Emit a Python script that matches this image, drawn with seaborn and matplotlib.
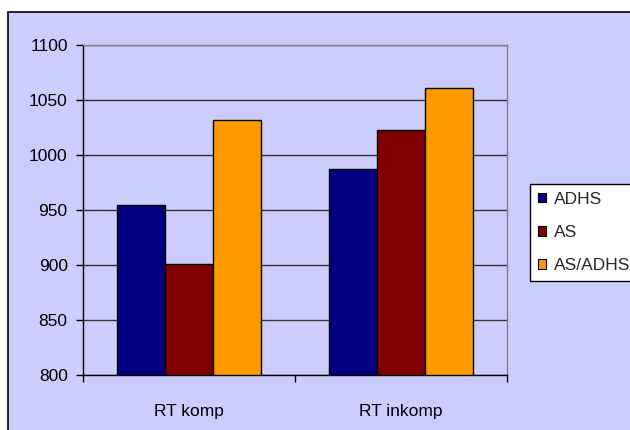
import pandas as pd
import matplotlib
matplotlib.use("Agg")
import matplotlib.pyplot as plt
import seaborn as sns
from matplotlib.patches import Rectangle

# data
conditions = ["RT komp", "RT inkomp"]
groups = ["ADHS", "AS", "AS/ADHS"]
adhs = [955, 987]
as_vals = [901, 1023]
as_adhs = [1032, 1061]

rows = []
for i, c in enumerate(conditions):
    rows.append((c, "ADHS", adhs[i]))
    rows.append((c, "AS", as_vals[i]))
    rows.append((c, "AS/ADHS", as_adhs[i]))
df = pd.DataFrame(rows, columns=["Condition", "Group", "RT"])

sns.set_theme(style="white")
plt.rcParams['font.family'] = ['Liberation Sans', 'DejaVu Sans']

bg = "#CCCCFF"
palette = ["#000080", "#800000", "#FF9900"]
fs = 12.5

fig = plt.figure(figsize=(6.3, 4.3), dpi=100)
fig.patch.set_facecolor("white")
# chart area frame (behind the axes)
frame = Rectangle((8 / 630, -0.1), 1.1, 1.1 - 12 / 430,
                  transform=fig.transFigure, facecolor=bg,
                  edgecolor="black", linewidth=1.2, zorder=-5)
fig.add_artist(frame)

ax = fig.add_axes([83 / 630, 55 / 430, 424 / 630, 330 / 430])
ax.set_zorder(1)
ax.set_facecolor(bg)

sns.barplot(data=df, x="Condition", y="RT", hue="Group", order=conditions,
            hue_order=groups, palette=palette, width=0.68, saturation=1,
            edgecolor="black", linewidth=1, ax=ax)

ax.set_ylim(800, 1100)
ax.set_xlim(-0.5, 1.5)
ax.set_yticks(range(800, 1101, 50))
ax.yaxis.grid(True, color="#333333", linewidth=1)
ax.set_axisbelow(True)
ax.set_xlabel("")
ax.set_ylabel("")

# Excel-like ticks: y outward, x at category boundaries
ax.tick_params(axis="y", left=True, length=5, width=1, color="black",
               labelsize=fs, pad=6, labelcolor="black")
ax.tick_params(axis="x", bottom=False, labelsize=fs, pad=15, labelcolor="black")
ax.set_xticks([-0.5, 0.5, 1.5], minor=True)
ax.tick_params(axis="x", which="minor", bottom=True, length=5, width=1, color="black")

for s in ["top", "right"]:
    ax.spines[s].set_color("#808080")
    ax.spines[s].set_linewidth(1)
for s in ["left", "bottom"]:
    ax.spines[s].set_color("black")
    ax.spines[s].set_linewidth(1)

leg = fig.legend(*ax.get_legend_handles_labels(), loc="upper left",
                 bbox_to_anchor=(530 / 630, 1 - 184 / 430), frameon=True,
                 fancybox=False, fontsize=fs, handlelength=0.45,
                 handleheight=0.45, handletextpad=0.5, labelspacing=1.05,
                 borderpad=0.45, borderaxespad=0)
ax.get_legend().remove()
leg.set_zorder(5)
leg.get_frame().set_edgecolor("black")
leg.get_frame().set_facecolor("white")
leg.get_frame().set_linewidth(1)
leg.get_frame().set_alpha(1)
for h in leg.legend_handles:
    h.set_edgecolor("black")
    h.set_linewidth(0.8)

fig.savefig("out.png", dpi=100, facecolor="white")
